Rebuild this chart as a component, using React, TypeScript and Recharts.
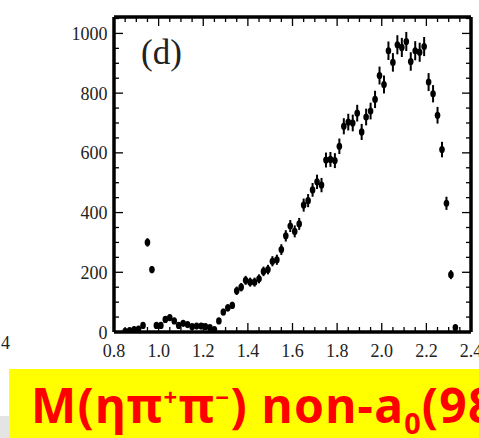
import React from 'react';
import { ScatterChart, Scatter, XAxis, YAxis, ErrorBar } from 'recharts';

// M(eta pi+ pi-) bin centres, counts per bin and their errors
const mass = [
  0.85, 0.87, 0.89, 0.91, 0.93, 0.95, 0.97, 0.99, 1.01, 1.03, 1.05, 1.07, 1.09, 1.11, 1.13,
  1.15, 1.17, 1.19, 1.21, 1.23, 1.25, 1.27, 1.29, 1.31, 1.33, 1.35, 1.37, 1.39, 1.41, 1.43,
  1.45, 1.47, 1.49, 1.51, 1.53, 1.55, 1.57, 1.59, 1.61, 1.63, 1.65, 1.67, 1.69, 1.71, 1.73,
  1.75, 1.77, 1.79, 1.81, 1.83, 1.85, 1.87, 1.89, 1.91, 1.93, 1.95, 1.97, 1.99, 2.01, 2.03,
  2.05, 2.07, 2.09, 2.11, 2.13, 2.15, 2.17, 2.19, 2.21, 2.23, 2.25, 2.27, 2.29, 2.31, 2.33,
];
const counts = [
  2, 5, 8, 10, 22, 300, 209, 22, 22, 42, 48, 37, 22, 29, 25,
  18, 20, 20, 18, 15, 8, 37, 67, 81, 89, 138, 150, 173, 167, 167,
  178, 203, 209, 237, 242, 276, 322, 355, 337, 362, 425, 440, 476, 503, 492,
  576, 578, 574, 622, 689, 703, 700, 733, 670, 720, 740, 779, 859, 829, 942,
  903, 962, 953, 973, 906, 942, 937, 956, 837, 798, 726, 611, 431, 192, 15,
];
const errors = [
  4, 5, 6, 6, 8, 14, 12, 8, 8, 10, 10, 10, 8, 8, 8,
  7, 7, 7, 7, 7, 5, 9, 11, 12, 12, 14, 14, 15, 15, 15,
  15, 16, 16, 17, 17, 18, 19, 20, 20, 20, 22, 22, 23, 24, 24,
  25, 25, 25, 26, 27, 28, 28, 28, 27, 28, 28, 29, 30, 30, 31,
  31, 32, 32, 32, 31, 32, 32, 32, 30, 29, 28, 26, 22, 15, 5,
];

const xLabels = ['0.8', '1.0', '1.2', '1.4', '1.6', '1.8', '2.0', '2.2', '2.4'];
const yLabels = ['0', '200', '400', '600', '800', '1000'];

const points = mass.map((m, i) => ({ m, n: counts[i], err: errors[i] }));

const xTicks = Array.from({ length: 33 }, (_, i) => +(0.8 + i * 0.05).toFixed(2));
const yTicks = Array.from({ length: 22 }, (_, i) => i * 50);
const xMajor = (v: number) => xLabels.includes(v.toFixed(2).slice(0, -1)) && Math.round(v * 100) % 20 === 0;
const yMajor = (v: number) => yLabels.includes(String(v));

const font = '"Liberation Serif", "DejaVu Serif", serif';
const labelStyle = { fontFamily: font, fontSize: 18 };
const tickW = 1.3;

const bottomTick = ({ x, y, payload }: any) => {
  const major = xMajor(payload.value);
  return (
    <g key={`b${payload.value}`}>
      <line x1={x} x2={x} y1={y} y2={y - (major ? 9 : 5)} stroke="#000" strokeWidth={tickW} />
      {major && (
        <text x={x} y={y + 24.5} textAnchor="middle" style={labelStyle} fill="#222">
          {payload.value.toFixed(1)}
        </text>
      )}
    </g>
  );
};

const topTick = ({ x, y, payload }: any) => {
  const major = xMajor(payload.value);
  return <line key={`t${payload.value}`} x1={x} x2={x} y1={y} y2={y + (major ? 9 : 5)} stroke="#000" strokeWidth={tickW} />;
};

const leftTick = ({ x, y, payload }: any) => {
  const major = yMajor(payload.value);
  return (
    <g key={`l${payload.value}`}>
      <line x1={x} x2={x + (major ? 9 : 5)} y1={y} y2={y} stroke="#000" strokeWidth={tickW} />
      {major && (
        <text x={x - 6.5} y={y + 6.5} textAnchor="end" style={labelStyle} fill="#222">
          {payload.value}
        </text>
      )}
    </g>
  );
};

const rightTick = ({ x, y, payload }: any) => {
  const major = yMajor(payload.value);
  return <line key={`r${payload.value}`} x1={x} x2={x - (major ? 9 : 5)} y1={y} y2={y} stroke="#000" strokeWidth={tickW} />;
};

const Marker = (props: any) => <ellipse cx={props.cx} cy={props.cy} rx={2.8} ry={3.6} fill="#000" />;

const frame = { stroke: '#000', strokeWidth: 3.5 };

export default function App() {
  return (
    <div style={{ position: 'absolute', left: 0, top: 0, width: 479, height: 438, overflow: 'hidden', background: '#fff' }}>
      <ScatterChart width={479} height={365} margin={{ top: 16, right: 7, bottom: 0, left: 0 }}>
        <XAxis xAxisId="b" type="number" dataKey="m" domain={[0.8, 2.4]} ticks={xTicks} interval={0}
          allowDataOverflow height={33} tickSize={0} tickMargin={0} axisLine={frame} tickLine={false} tick={bottomTick} />
        <XAxis xAxisId="t" orientation="top" type="number" dataKey="m" domain={[0.8, 2.4]} ticks={xTicks} interval={0}
          allowDataOverflow height={1} tickSize={0} tickMargin={0} axisLine={frame} tickLine={false} tick={topTick} />
        <YAxis yAxisId="l" type="number" dataKey="n" domain={[0, 1055]} ticks={yTicks} interval={0}
          allowDataOverflow width={114} tickSize={0} tickMargin={0} axisLine={frame} tickLine={false} tick={leftTick} />
        <YAxis yAxisId="r" orientation="right" type="number" dataKey="n" domain={[0, 1055]} ticks={yTicks} interval={0}
          allowDataOverflow width={1} tickSize={0} tickMargin={0} axisLine={frame} tickLine={false} tick={rightTick} />
        <Scatter data={points} xAxisId="b" yAxisId="l" shape={Marker} isAnimationActive={false}>
          <ErrorBar dataKey="err" direction="y" width={0} stroke="#000" strokeWidth={2} />
        </Scatter>
      </ScatterChart>

      <div style={{ position: 'absolute', left: 141, top: 35, fontFamily: font, fontSize: 35, color: '#222', lineHeight: 1 }}>(d)</div>
      <div style={{ position: 'absolute', left: 1, top: 334, fontFamily: font, fontSize: 18, color: '#222', lineHeight: 1 }}>4</div>
      <div style={{ position: 'absolute', left: 0, top: 416, width: 9, height: 22, background: '#e4e4e4' }} />

      <div style={{ position: 'absolute', left: 9, top: 369, width: 470, height: 69, background: '#ffff00', overflow: 'hidden' }}>
        <div style={{ position: 'absolute', left: 22, top: 7, whiteSpace: 'nowrap', color: '#ff0000', fontWeight: 'bold',
          fontFamily: '"Noto Sans", sans-serif', fontSize: 48, letterSpacing: 1.2, lineHeight: 1.2 }}>
          M(ηπ<sup style={{ fontSize: '0.5em' }}>+</sup>π<sup style={{ fontSize: '0.5em' }}>−</sup>) non-a<sub style={{ fontSize: '0.6em' }}>0</sub>(980)
        </div>
      </div>
    </div>
  );
}
